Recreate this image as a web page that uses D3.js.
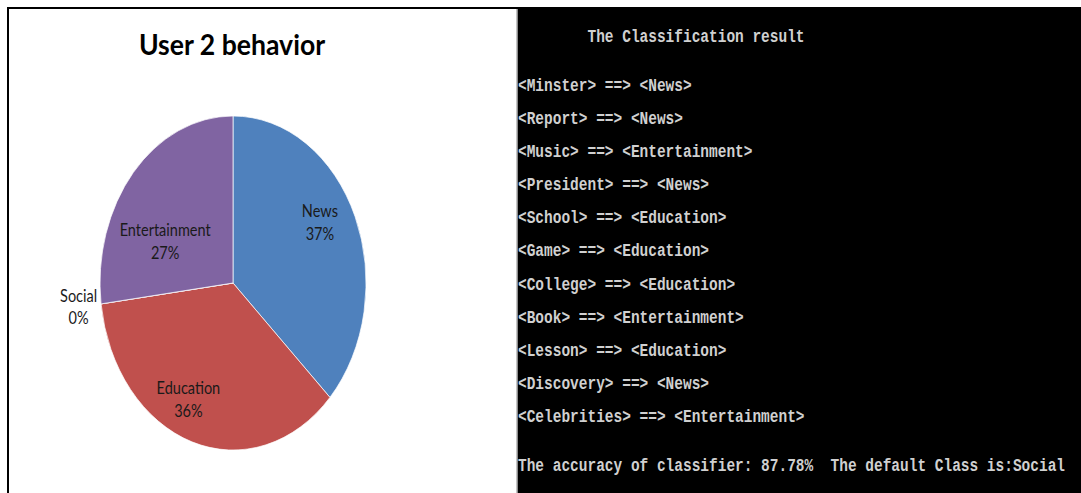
<!DOCTYPE html>
<html>
<head>
<meta charset="utf-8">
<script src="https://cdn.jsdelivr.net/npm/d3@7"></script>
<style>
  html, body { margin: 0; padding: 0; background: #fff; }
  svg { display: block; }
</style>
</head>
<body>
<svg id="chart" width="1081" height="493"></svg>
<script>
// Share of browsing per category for user 2
const categories = ["News", "Education", "Social", "Entertainment"];
const shares = [37, 36, 0, 27];
const sliceColors = ["#4F81BD", "#C0504D", "#9BBB59", "#8064A2"];

// Classifier output shown in the console panel
const terms = ["Minster", "Report", "Music", "President", "School", "Game",
               "College", "Book", "Lesson", "Discovery", "Celebrities"];
const assignedClasses = ["News", "News", "Entertainment", "News", "Education", "Education",
                         "Education", "Entertainment", "Education", "News", "Entertainment"];
const accuracy = "87.78%";
const defaultClass = "Social";

const svg = d3.select("#chart");

// ---------- left panel: pie chart ----------
svg.append("rect").attr("x", 0).attr("y", 0).attr("width", 1081).attr("height", 493).attr("fill", "#fff");

const cx = 233, cy = 283, rx = 133, ry = 167;   // pie is drawn stretched vertically

const pie = d3.pie().sort(null).value(d => d.value);
const slices = pie(categories.map((c, i) => ({ name: c, value: shares[i], color: sliceColors[i] })));

const arc = d3.arc().innerRadius(0).outerRadius(1);
const pieG = svg.append("g").attr("transform", `translate(${cx},${cy}) scale(${rx},${ry})`);
pieG.selectAll("path")
  .data(slices)
  .join("path")
  .attr("d", arc)
  .attr("fill", d => d.data.color)
  .attr("stroke", "#ffffff")
  .attr("stroke-opacity", 0.7)
  .attr("stroke-width", 1)
  .attr("vector-effect", "non-scaling-stroke");

// label anchors: inside slices, empty slices get their label just outside the rim
const insideArc = d3.arc().innerRadius(0.72).outerRadius(0.72);
const outsideArc = d3.arc().innerRadius(1.17).outerRadius(1.17);
const labelShift = { News: [-1, -12], Education: [-15, 3], Entertainment: [4, 39], Social: [0, 0] };

const labelFont = "Lato, 'Open Sans', sans-serif";
const labels = svg.append("g");
slices.forEach(s => {
  const [ux, uy] = (s.value > 0 ? insideArc : outsideArc).centroid(s);
  const sh = labelShift[s.data.name] || [0, 0];
  const x = cx + ux * rx + sh[0];
  const y = cy + uy * ry + sh[1];
  const t = labels.append("text")
    .attr("transform", `translate(${x},${y}) scale(0.88,1)`)
    .attr("text-anchor", "middle")
    .attr("font-family", labelFont)
    .attr("font-size", 16.5)
    .attr("fill", "#1a1a1a");
  t.append("tspan").attr("x", 0).attr("y", -6).text(s.data.name);
  t.append("tspan").attr("x", 0).attr("y", 17).text(Math.round(s.value) + "%");
});

svg.append("text")
  .attr("transform", `translate(232,55) scale(0.95,1)`)
  .attr("text-anchor", "middle")
  .attr("font-family", labelFont)
  .attr("font-weight", "bold")
  .attr("font-size", 28)
  .attr("fill", "#000")
  .text("User 2 behavior");

// frame around the chart panel
svg.append("rect").attr("x", 7).attr("y", 7).attr("width", 1074).attr("height", 2).attr("fill", "#000");
svg.append("rect").attr("x", 7).attr("y", 7).attr("width", 2).attr("height", 486).attr("fill", "#000");

// ---------- right panel: console output ----------
svg.append("rect").attr("x", 518).attr("y", 7).attr("width", 563).attr("height", 486).attr("fill", "#000");
svg.append("rect").attr("x", 516.5).attr("y", 9).attr("width", 1.5).attr("height", 484).attr("fill", "#8a8a8a");

const consoleFont = "'Liberation Mono', 'DejaVu Sans Mono', monospace";
const rowY = d3.scaleLinear().domain([0, terms.length - 1]).range([86, 417]);
const con = svg.append("g")
  .attr("font-family", consoleFont)
  .attr("font-size", 18)
  .attr("font-weight", "bold")
  .attr("fill", "#d0d0d0")
  .attr("dominant-baseline", "central");

// console keeps every space, so swap them for no-break spaces
const line = (text, y) =>
  con.append("text")
    .attr("transform", `translate(518,${y}) scale(0.804,1)`)
    .text(text.replace(/ /g, "\u00A0"));

line("        The Classification result", 37);
terms.forEach((t, i) => line(`<${t}> ==> <${assignedClasses[i]}>`, rowY(i)));
line(`The accuracy of classifier: ${accuracy}  The default Class is:${defaultClass}`, 466);
</script>
</body>
</html>
